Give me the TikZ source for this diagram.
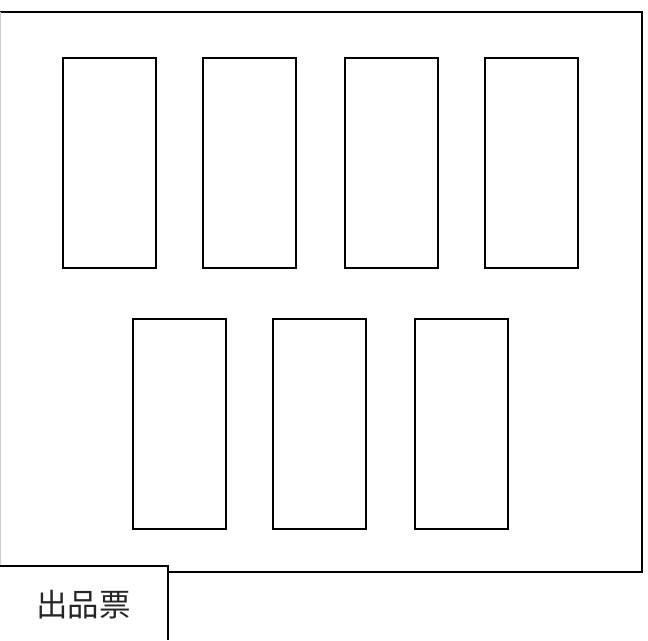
\documentclass[tikz,border=0pt]{standalone}
\usepackage{fontspec}
\newfontfamily\cjk{Noto Sans CJK JP}
\tikzset{
  x=0.75pt,y=-0.75pt,
  slot/.style={draw=black,line width=1.5pt,fill=white,minimum width=69.75pt,minimum height=157.5pt,inner sep=0pt,outer sep=0pt,anchor=north west},
  outerline/.style={draw=black,line width=1.5pt},
  labeltext/.style={font=\cjk\fontsize{23.6pt}{24pt}\selectfont,inner sep=0pt,text=black!85}
}
\begin{document}
\begin{tikzpicture}
\useasboundingbox (0,0) rectangle (648,640);
\fill[white] (0,0) rectangle (648,640);
% outer sheet
\draw[outerline] (0,11.5) -- (641.5,11.5) -- (641.5,572) -- (167,572);
\draw[draw=black!20,line width=0.75pt] (0.5,11.5) -- (0.5,565);
% slots
\node[slot] (a1) at (63,57.5) {};
\node[slot] (a2) at (203,57.5) {};
\node[slot] (a3) at (345,57.5) {};
\node[slot] (a4) at (485,57.5) {};
\node[slot] (b1) at (133,319) {};
\node[slot] (b2) at (273,319) {};
\node[slot] (b3) at (415,319) {};
% label box
\draw[outerline] (0,565.5) -- (167.5,565.5) -- (167.5,640);
\node[labeltext] (label) at (83.5,605) {出品票};
\end{tikzpicture}
\end{document}
